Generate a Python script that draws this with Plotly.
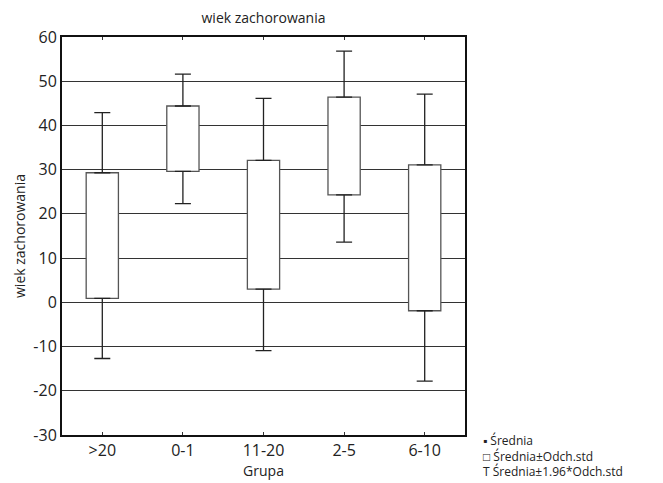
import plotly.graph_objects as go

groups = [">20", "0-1", "11-20", "2-5", "6-10"]
whisker_low = [-12.7, 22.3, -10.9, 13.6, -17.8]
box_low = [0.9, 29.6, 3.0, 24.3, -1.9]
box_high = [29.3, 44.4, 32.1, 46.4, 31.1]
whisker_high = [42.9, 51.6, 46.1, 56.8, 47.1]
y_ticks = [-30, -20, -10, 0, 10, 20, 30, 40, 50, 60]
y_tick_labels = ["-30", "-20", "-10", "0", "10", "20", "30", "40", "50", "60"]
legend_items = ["▪ Średnia", "□ Średnia±Odch.std", "T Średnia±1.96*Odch.std"]

FONT = "Open Sans"
WHISK = "#222222"

fig = go.Figure()
# whiskers above boxes
fig.add_trace(go.Scatter(
    x=groups, y=box_high, mode="markers",
    marker=dict(size=1, color="rgba(0,0,0,0)"),
    error_y=dict(type="data", symmetric=False,
                 array=[h - b for h, b in zip(whisker_high, box_high)],
                 arrayminus=[0] * len(groups),
                 color=WHISK, thickness=1.3, width=8),
    hoverinfo="skip", showlegend=False,
))
# whiskers below boxes
fig.add_trace(go.Scatter(
    x=groups, y=box_low, mode="markers",
    marker=dict(size=1, color="rgba(0,0,0,0)"),
    error_y=dict(type="data", symmetric=False,
                 array=[0] * len(groups),
                 arrayminus=[b - l for b, l in zip(box_low, whisker_low)],
                 color=WHISK, thickness=1.3, width=8),
    hoverinfo="skip", showlegend=False,
))
# boxes (mean ± sd)
fig.add_trace(go.Bar(
    x=groups, base=box_low,
    y=[h - l for h, l in zip(box_high, box_low)],
    width=0.4,
    marker=dict(color="white", line=dict(color="#555555", width=1.3)),
    hoverinfo="skip", showlegend=False,
))

fig.update_layout(
    width=663, height=483,
    margin=dict(l=62, r=198, t=37, b=42),
    paper_bgcolor="white", plot_bgcolor="white",
    font=dict(family=FONT, size=14, color="#222222"),
    showlegend=False,
    title=dict(text="wiek zachorowania", x=263.5 / 663, xanchor="center",
               y=1 - 18 / 483, yanchor="middle", font=dict(size=14, family=FONT)),
)
fig.update_xaxes(
    type="category", categoryorder="array", categoryarray=groups,
    range=[-0.5, 4.5],
    showline=True, linecolor="#111111", linewidth=2, mirror="allticks",
    ticks="inside", ticklen=3, tickcolor="#333333",
    showgrid=False, zeroline=False,
    title=dict(text="Grupa", standoff=0, font=dict(size=14)),
    tickfont=dict(size=16),
)
fig.update_yaxes(
    range=[-30, 60], tickvals=y_ticks, ticktext=y_tick_labels,
    showline=True, linecolor="#111111", linewidth=2, mirror="allticks",
    ticks="inside", ticklen=3, tickcolor="#333333",
    showgrid=True, gridcolor="#333333", gridwidth=1, zeroline=False,
    title=dict(text="wiek zachorowania", standoff=4, font=dict(size=14)),
    tickfont=dict(size=16),
)

fig.add_annotation(
    text="<br>".join(legend_items), xref="paper", yref="paper",
    x=(481 - 62) / (663 - 62 - 198), y=1 - (462 - 37) / (483 - 37 - 42),
    xanchor="left", yanchor="middle", align="left", showarrow=False,
    font=dict(size=12, family=FONT, color="#222222"),
)

fig.write_html("out.html")
